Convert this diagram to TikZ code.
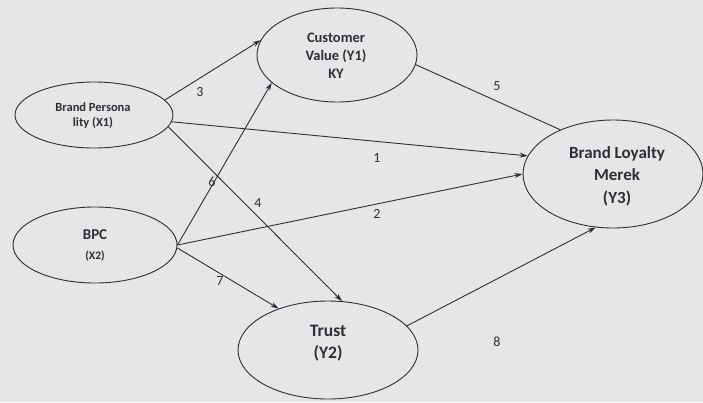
\documentclass[tikz,border=0pt]{standalone}
\usepackage{fontspec}
\setmainfont{Carlito}
\usetikzlibrary{shapes.geometric,arrows.meta}
\definecolor{bg}{HTML}{E6E6E9}
\definecolor{ink}{HTML}{2E2E33}
\tikzset{
  var/.style={ellipse, draw=ink, line width=0.9pt, inner sep=0pt},
  vtext/.style={text=ink, align=center, inner sep=0pt},
  path/.style={draw=ink, line width=0.9pt, -{Stealth[length=8pt,width=5pt]}},
  plain/.style={draw=ink, line width=0.9pt},
  lbl/.style={text=ink, font=\fontsize{14}{14}\selectfont, inner sep=1pt}
}
\begin{document}
\begin{tikzpicture}[x=1pt,y=-1pt]
\fill[bg] (0,0) rectangle (703,402);
\useasboundingbox (0,0) rectangle (703,402);
\node[var, minimum width=158pt, minimum height=66pt] (x1) at (94,115) {};
\node[vtext, font=\bfseries\fontsize{12.5}{15}\selectfont] (x1t) at (93,116) {Brand Persona\\lity (X1)};
\node[var, minimum width=164pt, minimum height=76pt] (x2) at (95,245) {};
\node[vtext, font=\bfseries\fontsize{15}{20}\selectfont] (x2t) at (95,245) {BPC\\{\fontsize{11.5}{12}\selectfont (X2)}};
\node[var, minimum width=160pt, minimum height=94pt] (y1) at (337,55) {};
\node[vtext, font=\bfseries\fontsize{14.5}{18}\selectfont] (y1t) at (336,56) {Customer\\Value (Y1)\\KY};
\node[var, minimum width=180pt, minimum height=108pt] (y3) at (613,174) {};
\node[vtext, font=\bfseries\fontsize{17}{22.5}\selectfont] (y3t) at (617,176) {Brand Loyalty\\Merek\\(Y3)};
\node[var, minimum width=180pt, minimum height=98pt] (y2) at (328,350) {};
\node[vtext, font=\bfseries\fontsize{17.5}{21.5}\selectfont] (y2t) at (328,343) {Trust\\(Y2)};

\draw[path] (x1.12) -- (y1.169);
\draw[path] (x1.-5) -- (y3.168);
\draw[path] (x1.-9) -- (y2.74);
\draw[path] (x2.0) -- (y1.203);
\draw[path] (x2.0) -- (y3.180);
\draw[path] (x2.-2) -- (y2.140);
\draw[plain] (y1.-7) -- (y3.140);
\draw[path] (y2.17) -- (y3.252);

\node[lbl] (l3) at (200,92) {3};
\node[lbl] (l1) at (377,158) {1};
\node[lbl] (l4) at (258,203) {4};
\node[lbl] (l6) at (212,182) {6};
\node[lbl] (l2) at (377,214) {2};
\node[lbl] (l7) at (220,281) {7};
\node[lbl] (l5) at (497,86) {5};
\node[lbl] (l8) at (497,342) {8};
\end{tikzpicture}
\end{document}
